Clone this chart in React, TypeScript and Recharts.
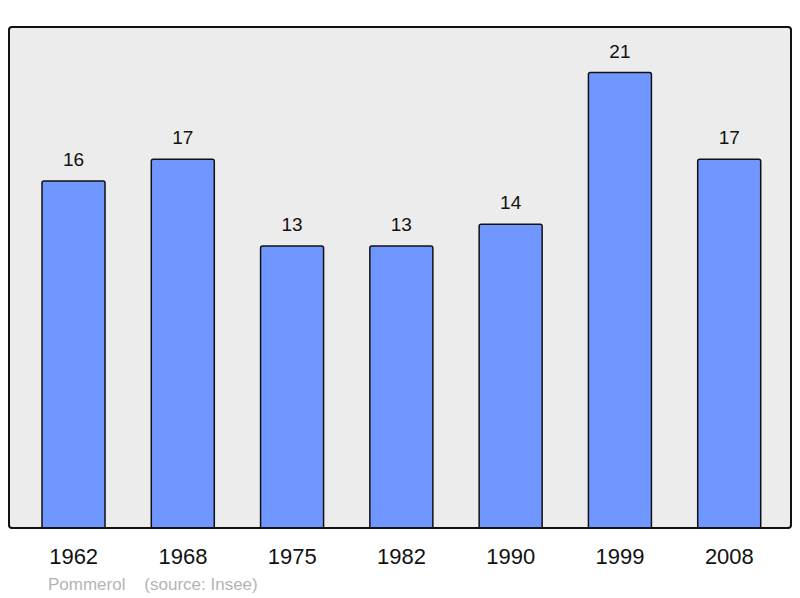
import { BarChart, Bar, XAxis, YAxis, CartesianGrid, LabelList } from 'recharts';

const years = ['1962', '1968', '1975', '1982', '1990', '1999', '2008'];
const population = [16, 17, 13, 13, 14, 21, 17];

const data = years.map((year, i) => ({ year, value: population[i] }));

const font = '"Liberation Sans", Arial, sans-serif';

export default function App() {
  return (
    <div style={{ position: 'absolute', left: 0, top: 0, width: 800, height: 598, background: '#fff' }}>
      <BarChart
        width={800}
        height={598}
        data={data}
        margin={{ top: 27, right: 9, left: 9, bottom: 0 }}
      >
        <CartesianGrid horizontal={false} vertical={false} fill="#ececec" />
        <XAxis
          dataKey="year"
          height={70}
          axisLine={false}
          tickLine={false}
          padding={{ left: 10, right: 7 }}
          tickMargin={14}
          tick={{ fontSize: 22, fill: '#111', fontFamily: font }}
          interval={0}
        />
        <YAxis hide domain={[0, 23.1]} />
        <Bar
          dataKey="value"
          barSize={63}
          fill="#7096ff"
          stroke="#111"
          strokeWidth={1.5}
          radius={[2, 2, 0, 0]}
          isAnimationActive={false}
        >
          <LabelList
            dataKey="value"
            position="top"
            offset={15}
            style={{ fontSize: 19, fill: '#111', fontFamily: font }}
          />
        </Bar>
      </BarChart>
      <div
        style={{
          position: 'absolute',
          left: 8,
          top: 26,
          width: 784,
          height: 503,
          boxSizing: 'border-box',
          border: '2px solid #111',
          borderRadius: 4,
          pointerEvents: 'none',
        }}
      />
      <div
        style={{
          position: 'absolute',
          left: 48,
          top: 575,
          fontFamily: font,
          fontSize: 17,
          color: '#b4b4b4',
          whiteSpace: 'pre',
        }}
      >
        {'Pommerol    (source: Insee)'}
      </div>
    </div>
  );
}
